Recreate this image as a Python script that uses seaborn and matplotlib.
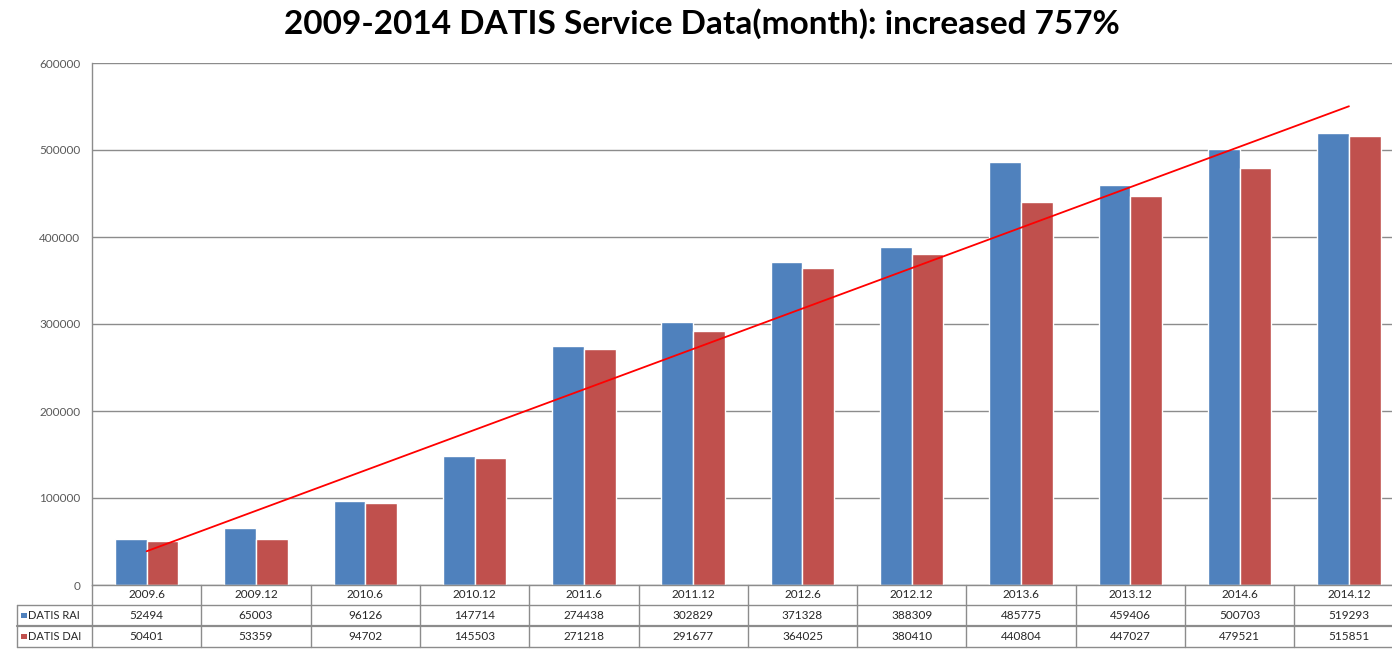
import pandas as pd
import matplotlib
matplotlib.use('Agg')
import matplotlib.pyplot as plt
import matplotlib.transforms as mtransforms
from matplotlib.lines import Line2D
from matplotlib.patches import Rectangle
from matplotlib.ticker import FuncFormatter
import seaborn as sns

periods = ['2009.6', '2009.12', '2010.6', '2010.12', '2011.6', '2011.12',
           '2012.6', '2012.12', '2013.6', '2013.12', '2014.6', '2014.12']
rai = [52494, 65003, 96126, 147714, 274438, 302829,
       371328, 388309, 485775, 459406, 500703, 519293]
dai = [50401, 53359, 94702, 145503, 271218, 291677,
       364025, 380410, 440804, 447027, 479521, 515851]
series_names = ['DATIS RAI', 'DATIS DAI']
colors = ['#4F81BD', '#C0504D']
yticks = [0, 100000, 200000, 300000, 400000, 500000, 600000]

df = pd.DataFrame({
    'period': periods * 2,
    'series': [series_names[0]] * len(periods) + [series_names[1]] * len(periods),
    'value': rai + dai,
})
trend = pd.DataFrame({'idx': range(len(periods)), 'dai': dai})

sns.set_theme(style='white')
plt.rcParams['font.family'] = ['Lato', 'DejaVu Sans']

W, H = 1392, 656
fig = plt.figure(figsize=(W / 100, H / 100), dpi=100)
fig.patch.set_facecolor('white')

def fx(px):
    return px / W

def fy(py):
    return 1 - py / H

ax = fig.add_axes([fx(92), fy(585), 1 - fx(92), (585 - 63) / H])

sns.barplot(data=df, x='period', y='value', hue='series', order=periods,
            hue_order=series_names, palette=colors, saturation=1, width=0.58,
            legend=False, ax=ax)
# linear trendline of DATIS DAI, as in the Excel chart
sns.regplot(data=trend, x='idx', y='dai', scatter=False, ci=None, truncate=True,
            color='#FF0000', line_kws={'lw': 1.3}, ax=ax)

cat_px = 109.3
ax.set_xlim(-0.5, -0.5 + (W - 92) / cat_px)
ax.set_ylim(0, 600000)
ax.set_yticks(yticks)
ax.yaxis.set_major_formatter(FuncFormatter(lambda v, p: f'{int(v)}'))
ax.yaxis.grid(True, color='#8c8c8c', lw=1)
ax.set_axisbelow(True)
ax.set_xlabel('')
ax.set_ylabel('')
ax.set_xticklabels([])
ax.tick_params(axis='x', length=0)
ax.tick_params(axis='y', length=0, pad=8.5, labelsize=8.5, labelcolor='#595959')
for s in ['top', 'right']:
    ax.spines[s].set_visible(False)
for s in ['left', 'bottom']:
    ax.spines[s].set_color('#8c8c8c')
    ax.spines[s].set_linewidth(1)

# data table under the plot
trans = mtransforms.blended_transform_factory(ax.transData, fig.transFigure)
line_c = '#8c8c8c'
n = len(periods)
rows_y = [585, 605, 626, 647]
for py in rows_y[1:]:
    ax.plot([-0.5, n - 0.5], [fy(py)] * 2, transform=trans, color=line_c,
            lw=1.6 if py == 626 else 1, clip_on=False)
    fig.add_artist(Line2D([fx(17), fx(92)], [fy(py)] * 2, color=line_c, lw=1.6 if py == 626 else 1))
for k in range(n + 1):
    ax.plot([k - 0.5] * 2, [fy(585), fy(647)], transform=trans, color=line_c,
            lw=1, clip_on=False)
fig.add_artist(Line2D([fx(17)] * 2, [fy(605), fy(647)], color=line_c, lw=1))

for i, p in enumerate(periods):
    ax.text(i, fy(595), p, transform=trans, ha='center', va='center',
            fontsize=8.5, color='#262626', clip_on=False)
    ax.text(i, fy(615.5), str(rai[i]), transform=trans, ha='center', va='center',
            fontsize=8.5, color='#262626', clip_on=False)
    ax.text(i, fy(636.5), str(dai[i]), transform=trans, ha='center', va='center',
            fontsize=8.5, color='#262626', clip_on=False)

for j, (name, c) in enumerate(zip(series_names, colors)):
    yc = [615.5, 636.5][j]
    fig.add_artist(Rectangle((fx(21), fy(yc + 2.8)), fx(5.5), 5.5 / H,
                             facecolor=c, edgecolor='none'))
    fig.text(fx(28), fy(yc), name, ha='left', va='center', fontsize=8,
             color='#262626')

fig.text(0.504, fy(24), '2009-2014 DATIS Service Data(month): increased 757%',
         ha='center', va='center', fontsize=24, fontweight='bold', color='black')

fig.savefig('out.png', dpi=100)
